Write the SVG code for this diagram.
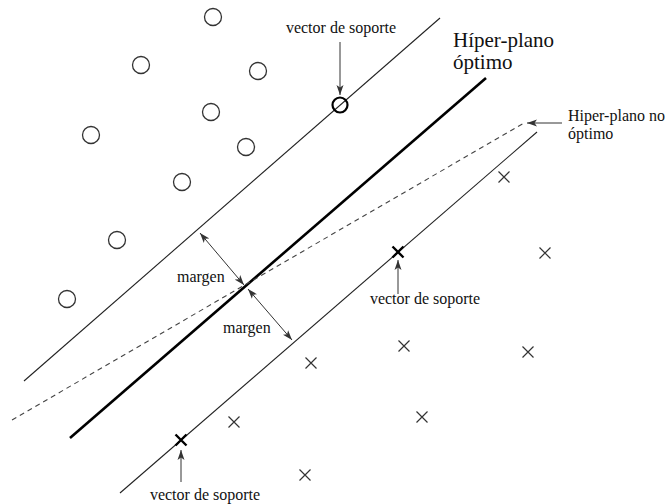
<svg xmlns="http://www.w3.org/2000/svg" width="666" height="504" viewBox="0 0 666 504">
<style>
text{font-family:"Liberation Serif","Times New Roman",serif;fill:#111}
.pt{fill:none;stroke:#333;stroke-width:1.3}
.x{stroke:#333;stroke-width:1.2;fill:none}
.sv{stroke:#000;stroke-width:2.4;fill:none}
.ln{stroke:#222;stroke-width:1.1;fill:none}
.ar{stroke:#333;stroke-width:1;fill:none;marker-end:url(#ah)}
.dar{stroke:#333;stroke-width:1;fill:none;marker-end:url(#ah);marker-start:url(#ah)}
</style>
<defs>
<marker id="ah" viewBox="0 0 10 8" refX="10" refY="4" markerWidth="10" markerHeight="8" markerUnits="userSpaceOnUse" orient="auto-start-reverse">
<path d="M0,0.5 L10,4 L0,7.5 L2.5,4 z" fill="#333"/>
</marker>
<path id="cross" d="M-5.5,-5.5 L5.5,5.5 M-5.5,5.5 L5.5,-5.5"/>
</defs>
<g id="lines">
<line class="ln" x1="24" y1="381" x2="440" y2="18"/>
<line x1="70" y1="438" x2="486" y2="78" stroke="#000" stroke-width="2.6"/>
<line class="ln" x1="120" y1="493" x2="537" y2="132"/>
<line x1="12" y1="420" x2="524" y2="123" stroke="#444" stroke-width="1.1" stroke-dasharray="5 4"/>
</g>
<g id="circles">
<circle class="pt" cx="213" cy="17" r="8.5"/>
<circle class="pt" cx="141" cy="65" r="8.5"/>
<circle class="pt" cx="258" cy="71" r="8.5"/>
<circle class="pt" cx="211" cy="112" r="8.5"/>
<circle class="pt" cx="91" cy="135" r="8.5"/>
<circle class="pt" cx="246" cy="147" r="8.5"/>
<circle class="pt" cx="182" cy="182" r="8.5"/>
<circle class="pt" cx="117" cy="240" r="8.5"/>
<circle class="pt" cx="67" cy="299" r="8.5"/>
<circle cx="340" cy="105" r="7.5" fill="none" stroke="#000" stroke-width="2.2"/>
</g>
<g id="crosses">
<use href="#cross" class="x" x="504" y="177"/>
<use href="#cross" class="x" x="545" y="253"/>
<use href="#cross" class="x" x="404" y="346"/>
<use href="#cross" class="x" x="528" y="352"/>
<use href="#cross" class="x" x="311" y="363"/>
<use href="#cross" class="x" x="422" y="417"/>
<use href="#cross" class="x" x="234" y="422"/>
<use href="#cross" class="x" x="305" y="475"/>
<use href="#cross" class="sv" x="398" y="252"/>
<use href="#cross" class="sv" x="181" y="440"/>
</g>
<g id="connectors">
<line class="ar" x1="340" y1="42" x2="340" y2="95"/>
<line class="ar" x1="398" y1="294" x2="398" y2="260"/>
<line class="ar" x1="181" y1="482" x2="181" y2="450"/>
<line class="ar" x1="562" y1="123" x2="527" y2="123"/>
<line class="dar" x1="200" y1="233" x2="244" y2="285"/>
<line class="dar" x1="248" y1="289" x2="292" y2="340"/>
</g>
<g id="labels">
<text x="341" y="33" font-size="16" text-anchor="middle">vector de soporte</text>
<text x="453" y="47" font-size="21">Híper-plano</text>
<text x="453" y="69" font-size="21">óptimo</text>
<text x="568" y="121" font-size="16">Hiper-plano no</text>
<text x="568" y="139" font-size="16">óptimo</text>
<text x="177" y="282" font-size="16">margen</text>
<text x="223" y="333" font-size="16">margen</text>
<text x="425" y="304" font-size="16" text-anchor="middle">vector de soporte</text>
<text x="205" y="500" font-size="16" text-anchor="middle">vector de soporte</text>
</g>
</svg>
